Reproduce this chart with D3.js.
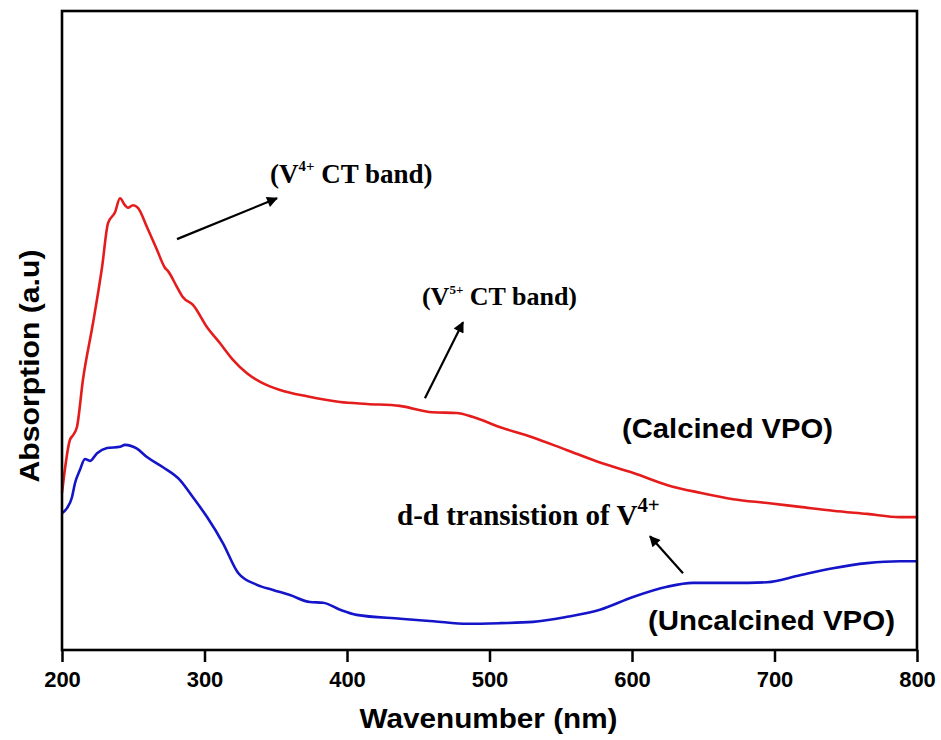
<!DOCTYPE html>
<html>
<head>
<meta charset="utf-8">
<script src="https://cdn.jsdelivr.net/npm/d3@7"></script>
<style>
  body { margin: 0; background: #fff; }
</style>
</head>
<body>
<script>
// wavelength (nm) and absorption (a.u.)
const calcinedNm = [200, 205.6, 207.7, 210.5, 214.7, 221.8, 228.1, 232.3, 237.2, 240.7, 244.2, 246.3,
  249.8, 253.3, 259.6, 266.7, 272.3, 274.4, 280.7, 284.9, 291.9, 301.8, 310.9, 320, 329.8, 340.4,
  353, 371.9, 395.1, 414, 437, 460, 477, 488, 507, 530, 554, 578, 601, 625, 648, 671, 695, 718,
  741, 765, 788, 800]
const calcinedAbs = [0.246, 0.329, 0.336, 0.349, 0.423, 0.512, 0.599, 0.668, 0.685, 0.707, 0.696, 0.692,
  0.696, 0.692, 0.662, 0.626, 0.598, 0.593, 0.568, 0.552, 0.540, 0.505, 0.480, 0.454, 0.433, 0.418,
  0.407, 0.397, 0.388, 0.385, 0.382, 0.372, 0.371, 0.365, 0.349, 0.333, 0.313, 0.293, 0.277, 0.258,
  0.246, 0.236, 0.230, 0.224, 0.218, 0.213, 0.208, 0.208]

const uncalcinedNm = [200, 203.5, 207, 209.1, 212.6, 216.1, 219.6, 224.6, 231.6, 240.7, 244.2, 252.6,
  259.6, 270.9, 282.8, 291.9, 301.8, 313, 323.5, 336.8, 348.1, 360, 374, 383.2, 395.1, 406.7, 437.5,
  460.7, 484.6, 507.4, 530.5, 554.4, 577.5, 600.7, 624.6, 642.8, 670.9, 694.7, 717.9, 741, 764.9,
  788, 800]
const uncalcinedAbs = [0.214, 0.222, 0.239, 0.261, 0.282, 0.299, 0.296, 0.308, 0.316, 0.318, 0.321, 0.315,
  0.302, 0.286, 0.266, 0.239, 0.208, 0.167, 0.121, 0.102, 0.094, 0.086, 0.075, 0.074, 0.063, 0.055,
  0.049, 0.045, 0.041, 0.042, 0.044, 0.052, 0.063, 0.083, 0.099, 0.105, 0.105, 0.106, 0.117, 0.128,
  0.136, 0.139, 0.139]

const xTicks = [200, 300, 400, 500, 600, 700, 800]

const svgWidth = 941
const svgHeight = 740
const margin = { top: 11, right: 24, bottom: 90, left: 62 }
const chartWidth = svgWidth - margin.left - margin.right
const chartHeight = svgHeight - margin.top - margin.bottom

const svg = d3.select("body").append("svg")
  .attr("width", svgWidth)
  .attr("height", svgHeight)

const chartG = svg.append("g")
  .attr("transform", `translate(${margin.left}, ${margin.top})`)

const x = d3.scaleLinear().domain([200, 800]).range([0, chartWidth])
const y = d3.scaleLinear().domain([0, 1]).range([chartHeight, 0])

const calcined = calcinedNm.map((nm, i) => ({ nm, v: calcinedAbs[i] }))
const uncalcined = uncalcinedNm.map((nm, i) => ({ nm, v: uncalcinedAbs[i] }))

const line = d3.line()
  .x(d => x(d.nm))
  .y(d => y(d.v))
  .curve(d3.curveMonotoneX)

chartG.append("path").datum(calcined)
  .attr("d", line)
  .attr("fill", "none")
  .attr("stroke", "#e41c1c")
  .attr("stroke-width", 2.6)

chartG.append("path").datum(uncalcined)
  .attr("d", line)
  .attr("fill", "none")
  .attr("stroke", "#1414c8")
  .attr("stroke-width", 2.6)

// x axis
const xAxis = d3.axisBottom(x).tickValues(xTicks).tickSize(12).tickSizeOuter(0).tickPadding(9)
const xg = chartG.append("g")
  .attr("transform", `translate(0, ${chartHeight})`)
  .call(xAxis)
xg.select(".domain").remove()
xg.selectAll(".tick line").attr("stroke", "#000").attr("stroke-width", 2.5)
xg.selectAll(".tick text")
  .attr("font-family", "'Liberation Sans', Arial, sans-serif")
  .attr("font-weight", "bold")
  .attr("font-size", 22)
  .attr("fill", "#000")

// frame
chartG.append("rect")
  .attr("x", 0).attr("y", 0)
  .attr("width", chartWidth).attr("height", chartHeight)
  .attr("fill", "none")
  .attr("stroke", "#000")
  .attr("stroke-width", 2.6)

// axis titles
svg.append("text")
  .attr("x", margin.left + x(200) + (x(800) - x(200)) / 2 - 1)
  .attr("y", 728)
  .attr("text-anchor", "middle")
  .attr("font-family", "'Liberation Sans', Arial, sans-serif")
  .attr("font-weight", "bold")
  .attr("font-size", 28)
  .attr("textLength", 258)
  .attr("lengthAdjust", "spacingAndGlyphs")
  .text("Wavenumber (nm)")

svg.append("text")
  .attr("transform", "translate(39, 366) rotate(-90)")
  .attr("text-anchor", "middle")
  .attr("font-family", "'Liberation Sans', Arial, sans-serif")
  .attr("font-weight", "bold")
  .attr("font-size", 28)
  .attr("textLength", 233)
  .attr("lengthAdjust", "spacingAndGlyphs")
  .text("Absorption (a.u)")

// series labels
const sans = "'Liberation Sans', Arial, sans-serif"
const serif = "'Liberation Serif', 'Times New Roman', serif"

chartG.append("text")
  .attr("x", x(593)).attr("y", y(0.332))
  .attr("font-family", sans).attr("font-weight", "bold").attr("font-size", 28)
  .attr("textLength", 211).attr("lengthAdjust", "spacingAndGlyphs")
  .text("(Calcined VPO)")

chartG.append("text")
  .attr("x", x(611.2)).attr("y", y(0.031))
  .attr("font-family", sans).attr("font-weight", "bold").attr("font-size", 28)
  .attr("textLength", 247).attr("lengthAdjust", "spacingAndGlyphs")
  .text("(Uncalcined VPO)")

// band annotations with superscripts
function supLabel(nm, v, size, supScale, parts) {
  const t = chartG.append("text")
    .attr("x", x(nm)).attr("y", y(v))
    .attr("font-family", serif).attr("font-weight", "bold").attr("font-size", size)
  const rise = size * 0.43
  parts.forEach(p => {
    const ts = t.append("tspan").text(p.text)
    if (p.sup) ts.attr("font-size", size * supScale).attr("dy", -rise)
    if (p.after) ts.attr("dy", rise)
  })
}

supLabel(346, 0.731, 27, 0.55, [{ text: "(V" }, { text: "4+", sup: true }, { text: " CT band)", after: true }])
supLabel(452.6, 0.540, 26, 0.5, [{ text: "(V" }, { text: "5+", sup: true }, { text: " CT band)", after: true }])
supLabel(435.1, 0.196, 29, 0.72, [{ text: "d-d transistion of V" }, { text: "4+", sup: true }])

// arrows
svg.append("defs").append("marker")
  .attr("id", "head")
  .attr("viewBox", "0 0 10 10")
  .attr("refX", 9).attr("refY", 5)
  .attr("markerWidth", 7).attr("markerHeight", 5)
  .attr("markerUnits", "strokeWidth")
  .attr("orient", "auto")
  .append("path")
  .attr("d", "M0,0 L10,5 L0,10 Z")
  .attr("fill", "#000")

const arrows = [
  [280.7, 0.643, 350.9, 0.707],
  [454.7, 0.394, 481.4, 0.513],
  [635.8, 0.120, 612.6, 0.178]
]

chartG.selectAll(".arrow")
  .data(arrows)
  .enter()
  .append("line")
  .attr("class", "arrow")
  .attr("x1", d => x(d[0])).attr("y1", d => y(d[1]))
  .attr("x2", d => x(d[2])).attr("y2", d => y(d[3]))
  .attr("stroke", "#000")
  .attr("stroke-width", 2.2)
  .attr("marker-end", "url(#head)")
</script>
</body>
</html>
